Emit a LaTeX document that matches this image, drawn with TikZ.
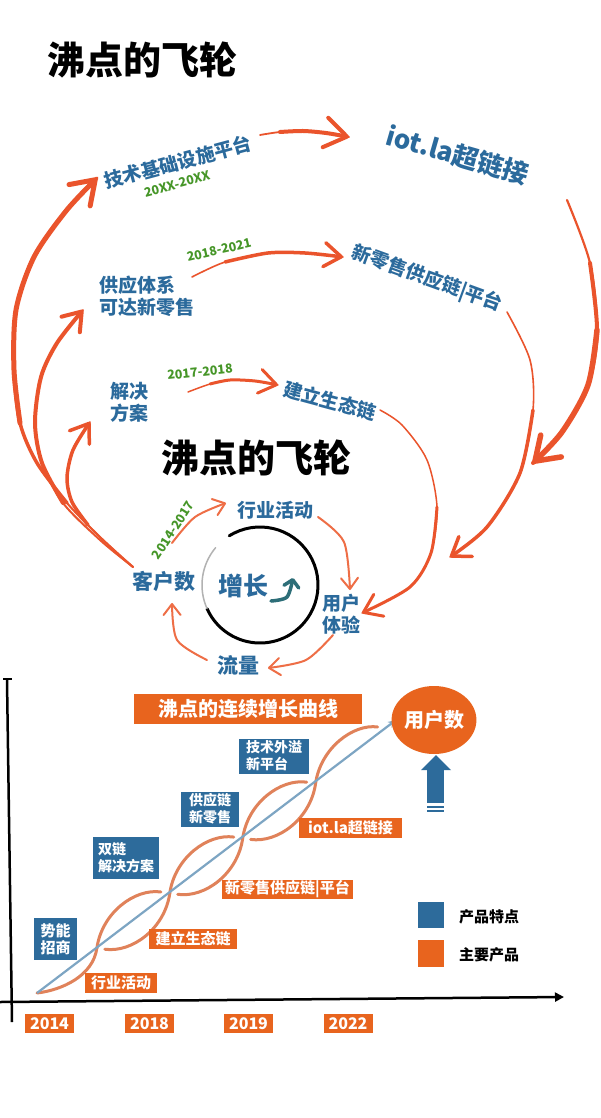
\documentclass[tikz,border=0pt]{standalone}
\usepackage{fontspec}
\newfontfamily\cjk{Noto Sans CJK SC}
\usetikzlibrary{arrows.meta,shapes.geometric}
\definecolor{fblue}{RGB}{43,106,156}
\definecolor{fgreen}{RGB}{70,150,40}
\definecolor{forange}{RGB}{234,84,44}
\definecolor{lorange}{RGB}{238,110,70}
\definecolor{boxorange}{RGB}{232,100,30}
\definecolor{boxblue}{RGB}{45,107,155}
\definecolor{helixc}{RGB}{224,130,90}
\definecolor{lineblue}{RGB}{125,165,195}
\definecolor{tealc}{RGB}{45,110,120}
\begin{document}
\begin{tikzpicture}[x=1pt,y=-1pt,
  lbl/.style={font=\cjk\bfseries\fontsize{19}{22}\selectfont, text=fblue, inner sep=0pt},
  glbl/.style={font=\cjk\bfseries\fontsize{12.5}{14}\selectfont, text=fgreen, inner sep=0pt},
  ttl/.style={font=\cjk\bfseries\fontsize{38}{40}\selectfont, text=black, inner sep=0pt},
  thinarr/.style={draw=forange, line width=#1, line cap=round},
  bigarr/.style={draw=forange, line width=5pt, line cap=round, -{Straight Barb[length=22pt,width=30pt,round]}},
  midarr/.style={draw=forange, line width=3.5pt, line cap=round, -{Straight Barb[length=17pt,width=24pt,round]}},
  smarr/.style={draw=lorange, line width=2pt, line cap=round, -{Straight Barb[length=11pt,width=17pt,round]}},
  obox/.style={fill=boxorange, text=white, font=\cjk\bfseries\fontsize{15}{17}\selectfont, inner sep=0pt},
  bbox/.style={fill=boxblue, text=white, font=\cjk\bfseries\fontsize{14}{17}\selectfont, inner sep=0pt, align=left},
  strand/.style={draw=helixc, line width=3pt, line cap=round},
]
\fill[white] (0,0) rectangle (600,1118);
\useasboundingbox (0,0) rectangle (600,1118);

% ---------- flywheel texts ----------
\node[ttl] (title1) at (142,60) {沸点的飞轮};
\node[ttl] (title2) at (256,458) {沸点的飞轮};

\node[lbl, rotate=15] (jishu) at (178,162) {技术基础设施平台};
\node[glbl, rotate=15] (y1) at (177,184) {20XX-20XX};
\node[lbl, font=\cjk\bfseries\fontsize{26}{28}\selectfont, rotate=-16] (iot) at (458,155) {iot.la超链接};
\node[lbl, align=left] (gongying) at (147,296) {供应体系\\可达新零售};
\node[glbl, rotate=13] (y2) at (219,250) {2018-2021};
\node[lbl, rotate=-20] (xls) at (427,279) {新零售供应链|平台};
\node[lbl, align=center] (jiejue) at (129,402) {解决\\方案};
\node[glbl, rotate=6] (y3) at (200,372) {2017-2018};
\node[lbl, rotate=-15] (jianli) at (330,401) {建立生态链};
\node[lbl] (hangye) at (275,510) {行业活动};
\node[glbl, rotate=57] (y4) at (173,530) {2014-2017};
\node[lbl, font=\cjk\bfseries\fontsize{21}{24}\selectfont] (kehu) at (164,581) {客户数};
\node[lbl, align=left] (yonghu) at (341,614) {用户\\体验};
\node[lbl, font=\cjk\bfseries\fontsize{21}{24}\selectfont] (liuliang) at (238,665) {流量};
\node[lbl, font=\cjk\bfseries\fontsize{25}{28}\selectfont] (zeng) at (243,586) {增长};

% ring
\coordinate (ring) at (260,585);
\draw[black, line width=3pt, line cap=round] ([shift={(-122:58)}]ring) arc[start angle=-122, end angle=156, radius=58];
\draw[gray!60, line width=1.5pt, line cap=round] ([shift={(156:58)}]ring) arc[start angle=156, end angle=220, radius=58];
% teal growth arrow
\coordinate (ga) at (271,601);
\coordinate (gb) at (293,578);
\draw[tealc, line width=3.5pt, line cap=round, -{Straight Barb[length=7pt,width=15pt,round]}] plot[smooth] coordinates {(ga) (287,597) (gb)};

% ---------- flywheel arrows ----------
\coordinate (ks) at (133,567);
\coordinate (l1e) at (97,178);
\coordinate (l2e) at (83,310);
\coordinate (l3e) at (90,422);
% big left arc (tapered)
\draw[thinarr=2pt] plot[smooth] coordinates {(ks) (100,537) (67,503) (37,463) (20,423) (14,370) (16,310) (34,257) (66,211) (l1e)};
\draw[thinarr=3.5pt] plot[smooth] coordinates {(67,503) (37,463) (20,423) (14,370) (16,310) (34,257) (66,211) (l1e)};
\draw[bigarr] plot[smooth] coordinates {(20,423) (14,370) (16,310) (34,257) (66,211) (l1e)};
% middle left arc
\draw[thinarr=2pt] plot[smooth] coordinates {(ks) (100,540) (63,503) (42,463) (35,423) (41,377) (57,343) (l2e)};
\draw[midarr, line width=4pt] plot[smooth] coordinates {(63,503) (42,463) (35,423) (41,377) (57,343) (l2e)};
% small left arc
\draw[thinarr=1.8pt] plot[smooth] coordinates {(ks) (117,553) (88,525) (72,502) (67,478) (73,450) (l3e)};
\draw[midarr] plot[smooth] coordinates {(88,525) (72,502) (67,478) (73,450) (l3e)};

\coordinate (t1s) at (260,135);
\coordinate (t1e) at (349,137);
\draw[thinarr=1.8pt] plot[smooth] coordinates {(t1s) (280,132) (303,131) (326,133) (t1e)};
\draw[bigarr, line width=4pt] plot[smooth] coordinates {(280,132) (303,131) (326,133) (t1e)};
\coordinate (t2s) at (192,277);
\coordinate (t2e) at (343,257);
\draw[thinarr=1.6pt] plot[smooth] coordinates {(t2s) (225,262) (268,253) (305,253) (t2e)};
\draw[midarr] plot[smooth] coordinates {(225,262) (268,253) (305,253) (t2e)};
\coordinate (t3s) at (188,392);
\coordinate (t3e) at (278,385);
\draw[thinarr=1.5pt] plot[smooth] coordinates {(t3s) (210,384) (230,380) (255,381) (t3e)};
\draw[midarr, line width=3pt] plot[smooth] coordinates {(210,384) (230,380) (255,381) (t3e)};

\coordinate (t4s) at (172,543);
\coordinate (t4e) at (226,503);
\draw[smarr] plot[smooth] coordinates {(t4s) (195,517) (t4e)};
\coordinate (t5s) at (318,517);
\coordinate (t5e) at (350,590);
\draw[smarr] plot[smooth] coordinates {(t5s) (344,542) (t5e)};
\coordinate (t6s) at (333,635);
\coordinate (t6e) at (268,668);
\draw[smarr] plot[smooth] coordinates {(t6s) (306,660) (t6e)};
\coordinate (t7s) at (207,660);
\coordinate (t7e) at (172,603);
\draw[smarr] plot[smooth] coordinates {(t7s) (177,640) (t7e)};

\coordinate (r1s) at (567,200);
\coordinate (r1e) at (533,463);
\draw[thinarr=2.2pt] plot[smooth] coordinates {(r1s) (590,263) (597,330) (588,385) (562,432) (r1e)};
\draw[thinarr=4pt] plot[smooth] coordinates {(590,263) (597,330) (588,385) (562,432) (r1e)};
\draw[bigarr, line width=5.5pt] plot[smooth] coordinates {(597,330) (588,385) (562,432) (r1e)};
\coordinate (r2s) at (507,312);
\coordinate (r2e) at (450,557);
\draw[thinarr=1.6pt] plot[smooth] coordinates {(r2s) (530,360) (533,410) (520,473) (487,527) (r2e)};
\draw[midarr] plot[smooth] coordinates {(533,410) (520,473) (487,527) (r2e)};
\coordinate (r3s) at (380,410);
\coordinate (r3e) at (362,613);
\draw[thinarr=1.5pt] plot[smooth] coordinates {(r3s) (402,425) (427,460) (437,507) (431,553) (410,587) (r3e)};
\draw[midarr, line width=3pt] plot[smooth] coordinates {(437,507) (431,553) (410,587) (r3e)};

% ---------- growth chart ----------
\draw[black, line width=2.5pt] (7,680) -- (12,1022);
\draw[black, line width=2pt] (3,679) -- (12,679);
\draw[black, line width=2.5pt, -{Triangle[length=9pt,width=9pt]}] (0,1002) -- (564,997);

% double strand: chain of lens-shaped loops between crossing points
\coordinate (ds) at (37,993);
\coordinate (de) at (396,720);
\coordinate (c1) at (96.9,948.1);
\coordinate (c2) at (169.8,893.2);
\coordinate (c3) at (242.7,838.3);
\coordinate (c4) at (315.6,783.4);
\coordinate (c5) at (388.5,728.5);
% first loop: only its lower arc, from the start of the line
\draw[strand] (ds) .. controls +(25,-3) and +(-4,28) .. (c1);
% upper-left arcs (leave steeply, arrive flat, broken before the crossing)
\draw[strand, shorten >=9pt] (c1) .. controls +(4.95,-35.25) and +(-35.25,-4.95) .. (c2);
\draw[strand, shorten >=9pt] (c2) .. controls +(4.95,-35.25) and +(-35.25,-4.95) .. (c3);
\draw[strand, shorten >=9pt] (c3) .. controls +(4.95,-35.25) and +(-35.25,-4.95) .. (c4);
\draw[strand, shorten >=11pt] (c4) .. controls +(4.95,-35.25) and +(-35.25,-4.95) .. (c5);
% lower-right arcs (leave flat after a break, arrive steeply)
\draw[strand, shorten <=8pt] (c1) .. controls +(35.25,4.95) and +(-4.95,35.25) .. (c2);
\draw[strand, shorten <=8pt] (c2) .. controls +(35.25,4.95) and +(-4.95,35.25) .. (c3);
\draw[strand, shorten <=8pt] (c3) .. controls +(35.25,4.95) and +(-4.95,35.25) .. (c4);
\draw[lineblue, line width=2.2pt, -{Stealth[length=8pt,width=7pt]}] (ds) -- (de);

\node[obox, font=\cjk\bfseries\fontsize{20}{22}\selectfont, minimum width=228pt, minimum height=30pt] (curve) at (248,709) {沸点的连续增长曲线};
\node[fill=boxorange, ellipse, minimum width=72pt, minimum height=68pt, inner sep=0pt, text=white, font=\cjk\bfseries\fontsize{20}{22}\selectfont] (users) at (434,720) {用户数};

% blue up arrow
\fill[boxblue] (421,770) -- (436,755) -- (451,770) -- cycle;
\fill[boxblue] (427,769) rectangle (444,803);
\fill[boxblue] (427,805.5) rectangle (444,807.5);
\fill[boxblue] (427,809.5) rectangle (444,811.5);

\node[bbox, minimum width=70pt, minimum height=35pt] (b4) at (274,756) {技术外溢\\新平台};
\node[bbox, minimum width=58pt, minimum height=35pt] (b3) at (210,809) {供应链\\新零售};
\node[bbox, minimum width=66pt, minimum height=42pt] (b2) at (126,858) {双链\\解决方案};
\node[bbox, font=\cjk\bfseries\fontsize{15}{17}\selectfont, minimum width=43pt, minimum height=42pt] (b1) at (55.5,939) {势能\\招商};

\node[obox, minimum width=103pt, minimum height=20pt] (o4) at (350.5,827.5) {iot.la超链接};
\node[obox, minimum width=131pt, minimum height=19pt] (o3) at (287.5,889.5) {新零售供应链|平台};
\node[obox, minimum width=88pt, minimum height=20pt] (o2) at (193,939) {建立生态链};
\node[obox, minimum width=72pt, minimum height=20pt] (o1) at (121,983) {行业活动};

\node[obox, font=\cjk\bfseries\fontsize{16}{18}\selectfont, minimum width=49pt, minimum height=19pt] (yr1) at (49.5,1023.5) {2014};
\node[obox, font=\cjk\bfseries\fontsize{16}{18}\selectfont, minimum width=49pt, minimum height=19pt] (yr2) at (149.5,1023.5) {2018};
\node[obox, font=\cjk\bfseries\fontsize{16}{18}\selectfont, minimum width=49pt, minimum height=19pt] (yr3) at (248.5,1023.5) {2019};
\node[obox, font=\cjk\bfseries\fontsize{16}{18}\selectfont, minimum width=49pt, minimum height=19pt] (yr4) at (348,1023.5) {2022};

% legend
\node[fill=boxblue, minimum width=26pt, minimum height=26pt, inner sep=0pt] (lgb) at (431,915) {};
\node[fill=boxorange, minimum width=26pt, minimum height=27pt, inner sep=0pt] (lgo) at (431,953.5) {};
\node[anchor=west, inner sep=0pt, font=\cjk\bfseries\fontsize{15}{17}\selectfont] (lgbt) at (459,917) {产品特点};
\node[anchor=west, inner sep=0pt, font=\cjk\bfseries\fontsize{15}{17}\selectfont] (lgot) at (459,955) {主要产品};
\end{tikzpicture}
\end{document}
